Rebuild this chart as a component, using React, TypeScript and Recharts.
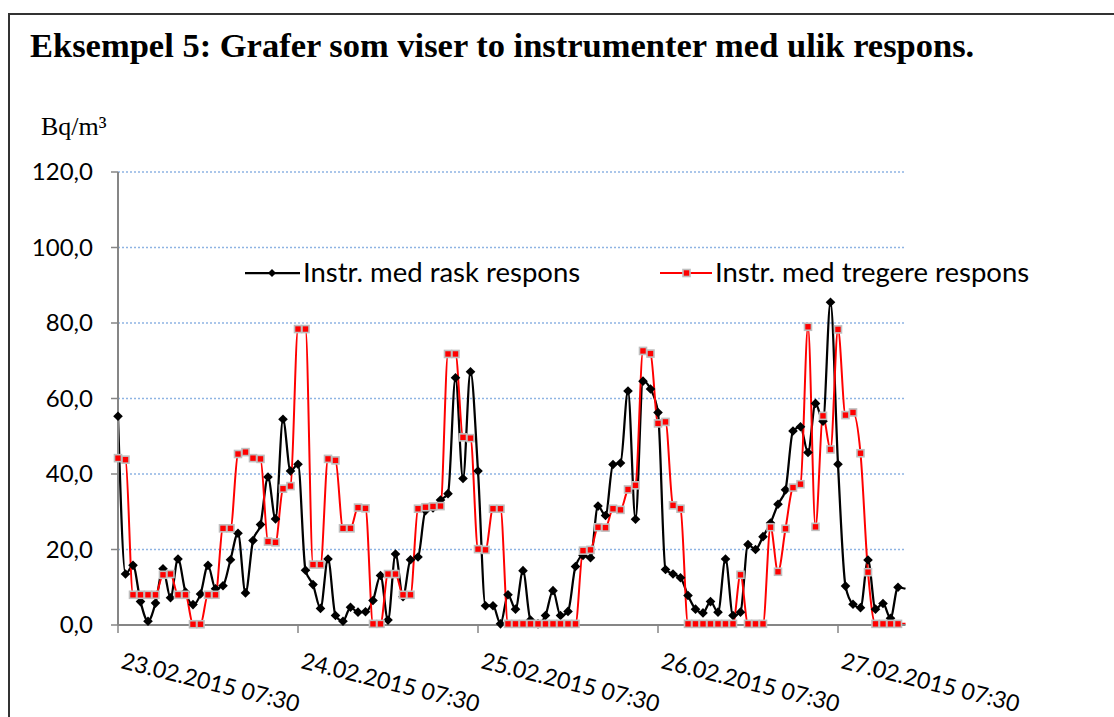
// Eksempel 5 - two radon instruments with different response

import React from 'react';
import { LineChart, Line, XAxis, YAxis, CartesianGrid, Legend } from 'recharts';

// hourly readings, Bq/m3, starting 23.02.2015 07:30
const fastSeries = [
  55.3, 13.5, 15.8, 6.2, 1.0, 5.8, 14.9, 7.2, 17.5, 8.7,
  5.4, 8.2, 15.8, 9.6, 10.4, 17.3, 24.3, 8.5, 22.4, 26.6,
  39.2, 28.1, 54.5, 40.8, 42.6, 14.5, 10.7, 4.4, 17.5, 2.5,
  1.0, 4.7, 3.4, 3.5, 6.5, 13.1, 1.3, 18.8, 7.5, 17.3,
  18.0, 30.3, 31.0, 33.1, 34.8, 65.5, 38.8, 67.1, 40.8, 5.1,
  5.1, 0.3, 8.0, 4.2, 14.4, 1.3, 0.3, 2.5, 9.1, 2.5,
  3.6, 15.5, 18.4, 17.8, 31.5, 29.0, 42.5, 42.9, 62.0, 28.0,
  64.6, 62.5, 56.3, 14.7, 13.5, 12.5, 7.8, 4.2, 3.2, 6.2,
  3.4, 17.5, 2.5, 3.4, 21.3, 20.0, 23.4, 27.0, 32.0, 35.8,
  51.4, 52.5, 45.7, 58.7, 54.0, 85.5, 42.6, 10.3, 5.5, 4.6,
  17.2, 4.2, 5.7, 1.8, 10.0, 9.6,
];

const slowSeries = [
  44.2, 43.8, 8.0, 8.0, 8.0, 8.0, 13.3, 13.5, 8.0, 8.0,
  0.2, 0.2, 8.0, 8.0, 25.6, 25.6, 45.3, 45.8, 44.2, 44.0,
  22.1, 21.9, 36.1, 36.8, 78.4, 78.4, 16.0, 16.0, 44.0, 43.6,
  25.6, 25.6, 31.1, 30.9, 0.3, 0.3, 13.5, 13.5, 8.0, 8.0,
  30.8, 31.2, 31.4, 31.5, 71.8, 71.8, 49.7, 49.5, 20.1, 19.9,
  30.8, 30.8, 0.3, 0.3, 0.3, 0.3, 0.3, 0.3, 0.3, 0.3,
  0.3, 0.3, 19.7, 19.9, 25.9, 25.8, 30.8, 30.5, 35.9, 37.0,
  72.6, 71.9, 53.4, 53.8, 31.7, 30.8, 0.3, 0.3, 0.3, 0.3,
  0.3, 0.3, 0.3, 13.3, 0.3, 0.3, 0.3, 25.9, 14.1, 25.5,
  36.4, 37.3, 79.0, 26.0, 55.4, 46.5, 78.3, 55.6, 56.3, 45.5,
  14.0, 0.3, 0.3, 0.3, 0.3, 0.3,
];

const xTickIndex = [0, 24, 48, 72, 96];
const xTickLabels = [
  '23.02.2015 07:30',
  '24.02.2015 07:30',
  '25.02.2015 07:30',
  '26.02.2015 07:30',
  '27.02.2015 07:30',
];
const yTicks = [0, 20, 40, 60, 80, 100, 120];
const seriesNames = ['Instr. med rask respons', 'Instr. med tregere respons'];

const chartData = fastSeries.map((v, i) => ({ i, fast: v, slow: slowSeries[i] }));
const lastIndex = chartData.length - 1;

const SANS = 'Lato, "Liberation Sans", sans-serif';
const SERIF = '"Liberation Serif", "DejaVu Serif", serif';
const AXIS_GREY = '#868686';

function diamond(cx: number, cy: number, r: number) {
  return `${cx},${cy - r} ${cx + r},${cy} ${cx},${cy + r} ${cx - r},${cy}`;
}

function DiamondDot(props: any) {
  const { cx, cy, index } = props;
  if (cx == null || cy == null || index === lastIndex) return <g key={`d${index}`} />;
  return <polygon key={`d${index}`} points={diamond(cx, cy, 4.8)} fill="#000" />;
}

function SquareDot(props: any) {
  const { cx, cy, index } = props;
  if (cx == null || cy == null || index === lastIndex) return <g key={`s${index}`} />;
  return (
    <rect
      key={`s${index}`}
      x={cx - 3.5}
      y={cy - 3.5}
      width={7}
      height={7}
      fill="#ff0000"
      stroke="#bfbfbf"
      strokeWidth={1.6}
    />
  );
}

function ValueTick({ x, y, payload }: any) {
  return (
    <text
      x={x}
      y={y}
      dy="0.35em"
      textAnchor="end"
      fontFamily={SANS}
      fontSize={24}
      fill="#000"
    >
      {Number(payload.value).toFixed(1).replace('.', ',')}
    </text>
  );
}

function DateTick({ x, y, payload }: any) {
  const k = xTickIndex.indexOf(payload.value);
  const bx = x + 2;
  const by = y + 33;
  return (
    <text
      x={bx}
      y={by}
      transform={`rotate(14 ${bx} ${by})`}
      fontFamily={SANS}
      fontSize={23}
      fill="#000"
    >
      {xTickLabels[k]}
    </text>
  );
}

function LegendBox() {
  return (
    <svg width={1114} height={40} style={{ display: 'block' }}>
      <line x1={245} x2={300} y1={18} y2={18} stroke="#000" strokeWidth={2.25} />
      <polygon points={diamond(272, 18, 4)} fill="#000" />
      <text x={303} y={27} fontFamily={SANS} fontSize={27.5} fill="#000">
        {seriesNames[0]}
      </text>
      <line x1={660} x2={712} y1={18} y2={18} stroke="#ff0000" strokeWidth={2} />
      <rect x={683} y={14.5} width={7} height={7} fill="#ff0000" stroke="#bfbfbf" strokeWidth={1.6} />
      <text x={715} y={27} fontFamily={SANS} fontSize={27.5} fill="#000">
        {seriesNames[1]}
      </text>
    </svg>
  );
}

export default function App() {
  return (
    <div
      style={{
        position: 'absolute',
        left: 0,
        top: 0,
        width: 1114,
        height: 717,
        background: '#fff',
        overflow: 'hidden',
      }}
    >
      {/* document frame */}
      <div
        style={{
          position: 'absolute',
          left: 8,
          top: 13,
          width: 1300,
          height: 900,
          border: '2px solid #333',
        }}
      />
      <svg width={1114} height={160} style={{ position: 'absolute', left: 0, top: 0 }}>
        <text x={30} y={57} fontFamily={SERIF} fontWeight="bold" fontSize={34.5} fill="#000">
          Eksempel 5: Grafer som viser to instrumenter med ulik respons.
        </text>
        <text x={41} y={135} fontFamily={SERIF} fontSize={26} fill="#000">
          Bq/m³
        </text>
      </svg>
      <div style={{ position: 'absolute', left: 0, top: 0 }}>
        <LineChart
          width={1114}
          height={717}
          data={chartData}
          margin={{ top: 172, right: 208.5, bottom: 32, left: 38 }}
        >
          <CartesianGrid vertical={false} stroke="#8eb4e3" strokeDasharray="2 2" strokeWidth={1.3} />
          <XAxis
            type="number"
            dataKey="i"
            domain={[0, lastIndex]}
            ticks={xTickIndex}
            interval={0}
            height={60}
            tick={<DateTick />}
            tickSize={8}
            tickMargin={2}
            tickLine={{ stroke: AXIS_GREY, strokeWidth: 1.5 }}
            axisLine={{ stroke: AXIS_GREY, strokeWidth: 2 }}
          />
          <YAxis
            type="number"
            domain={[0, 120]}
            ticks={yTicks}
            interval={0}
            width={80}
            tickSize={7}
            tickMargin={18}
            tick={<ValueTick />}
            tickLine={{ stroke: AXIS_GREY, strokeWidth: 1.5 }}
            axisLine={{ stroke: AXIS_GREY, strokeWidth: 2 }}
          />
          <Legend
            layout="horizontal"
            verticalAlign="middle"
            content={<LegendBox />}
            wrapperStyle={{ top: 255, left: 0, width: 1114 }}
          />
          <Line
            dataKey="fast"
            name={seriesNames[0]}
            type="monotone"
            stroke="#000"
            strokeWidth={2.25}
            dot={DiamondDot}
            activeDot={false}
            isAnimationActive={false}
          />
          <Line
            dataKey="slow"
            name={seriesNames[1]}
            type="monotone"
            stroke="#ff0000"
            strokeWidth={2}
            dot={SquareDot}
            activeDot={false}
            isAnimationActive={false}
          />
        </LineChart>
      </div>
    </div>
  );
}
